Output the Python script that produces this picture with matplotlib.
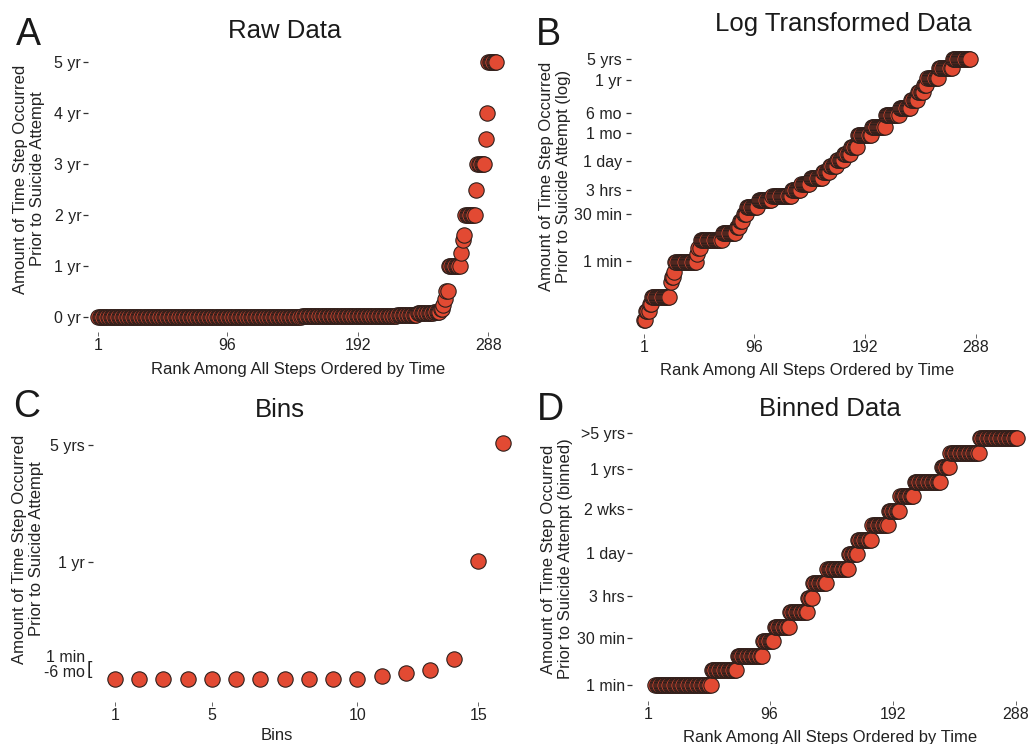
import numpy as np
import matplotlib
matplotlib.use("Agg")
import matplotlib.pyplot as plt

plt.rcParams['font.family'] = ['Liberation Sans', 'DejaVu Sans']

W, H = 1032, 744

# ---------------- data ----------------
# Panel A: raw time (years) per ranked step, as runs of equal values
a_values = [0.0, 0.005, 0.02, 0.04, 0.07, 0.1, 0.15, 0.23, 0.35, 0.5,
            1.0, 1.25, 1.5, 1.6, 2.0, 2.5, 3.0, 3.5, 4.0, 5.0]
a_counts = [150, 50, 20, 15, 12, 5, 2, 1, 1, 2,
            9, 1, 1, 1, 8, 1, 6, 1, 1, 7]
a_ytick_pos = [0, 1, 2, 3, 4, 5]
a_ytick_labels = ['0 yr', '1 yr', '2 yr', '3 yr', '4 yr', '5 yr']
rank_ticks = [1, 96, 192, 288]

# Panel B: log-transformed time (axis units), runs of equal values
b_values = [1.0, 1.9, 2.6, 3.3, 4.8, 5.3, 5.8, 6.8, 7.6, 8.2,
            9.0, 9.7, 10.3, 10.9, 11.6, 12.3, 13.0, 13.4, 14.0, 14.6,
            15.2, 15.8, 16.4, 17.0, 17.6, 18.3, 19.5, 20.3, 21.5, 22.2,
            23.0, 23.8, 24.5, 25.2, 26.2, 27.1]
b_counts = [2, 3, 2, 16, 1, 2, 1, 19, 1, 2,
            19, 12, 3, 3, 3, 10, 12, 17, 8, 8,
            11, 6, 6, 6, 6, 6, 12, 12, 12, 10,
            6, 5, 3, 10, 12, 16]
b_ytick_pos = [6.9, 11.57, 14.0, 16.9, 19.67, 21.73, 25.0, 27.07]
b_ytick_labels = ['1 min', '30 min', '3 hrs', '1 day', '1 mo', '6 mo', '1 yr', '5 yrs']

# Panel C: bins (axis units)
c_bins = [1, 2, 3, 4, 5, 6, 7, 8, 9, 10, 11, 12, 13, 14, 15, 16, 17]
c_values = [0, 0, 0, 0, 0, 0, 0, 0, 0, 0, 0, 0.36, 0.6, 0.93, 2.0, 11.83, 23.6]
c_xtick_pos = [1, 5, 11, 16]
c_xtick_labels = ['1', '5', '10', '15']
c_ytick_pos = [11.76, 23.43]
c_ytick_labels = ['1 yr', '5 yrs']

# Panel D: binned data, bin level and number of steps per level
d_levels = [1, 2, 3, 4, 5, 6, 7, 8, 9, 10, 11, 12, 13, 14, 15, 16, 17, 18]
d_counts = [44, 20, 20, 9, 12, 14, 4, 11, 17, 7, 11, 13, 9, 11, 21, 7, 23, 30]
d_first_rank = 7
d_ytick_pos = [1, 4.21, 7.12, 10.13, 13.16, 15.9, 18.36]
d_ytick_labels = ['1 min', '30 min', '3 hrs', '1 day', '2 wks', '1 yrs', '>5 yrs']

# ---------------- styling ----------------
FACE = '#E24A33'
EDGE = '#2e1f1b'
PT_S = 122

fig = plt.figure(figsize=(W / 100, H / 100), dpi=100)
fig.patch.set_facecolor('white')


def fx(x):
    return x / W


def fy(y):
    return 1 - y / H


def make_ax(box, xref, yref, ypad):
    left, top, right, bottom = box
    ax = fig.add_axes([fx(left), fy(bottom), (right - left) / W, (bottom - top) / H])
    x0v, x0p, sx = xref
    y0v, y0p, sy = yref
    ax.set_xlim(x0v + (left - x0p) / sx, x0v + (right - x0p) / sx)
    ax.set_ylim(y0v - (bottom - y0p) / sy, y0v + (y0p - top) / sy)
    for s in ax.spines.values():
        s.set_visible(False)
    ax.set_facecolor('none')
    ax.tick_params(axis='y', length=3.5, width=0.9, color='#333333',
                   labelsize=11.5, labelcolor='#222222', pad=ypad)
    ax.tick_params(axis='x', length=3.0, width=0.7, color='#666666',
                   labelsize=11.5, labelcolor='#222222', pad=1.5)
    return ax


def pts(ax, x, y):
    ax.scatter(x, y, s=PT_S, c=FACE, edgecolors=EDGE, linewidths=0.8,
               clip_on=False, zorder=3)


def ylab(x, y, txt):
    fig.text(fx(x), fy(y), txt, rotation=90, ha='center', va='center',
             multialignment='center', fontsize=12, color='#222222', linespacing=1.2)


def xlab(x, y, txt):
    fig.text(fx(x), fy(y), txt, ha='center', va='baseline', fontsize=12, color='#222222')


def title(x, y, txt):
    fig.text(fx(x), fy(y), txt, ha='center', va='baseline', fontsize=18.5, color='#1a1a1a')


def letter(x, y, txt):
    fig.text(fx(x), fy(y), txt, ha='center', va='baseline', fontsize=27, color='#1a1a1a')


# ---------------- Panel A ----------------
axA = make_ax((87.5, 45, 515, 332), (1, 98.3, 1.359), (0, 316.7, 50.88), 1.0)
a_y = np.repeat(a_values, a_counts)
a_x = np.arange(1, len(a_y) + 1)
pts(axA, a_x, a_y)
axA.set_xticks(rank_ticks)
axA.set_xticklabels([str(t) for t in rank_ticks])
axA.set_yticks(a_ytick_pos)
axA.set_yticklabels(a_ytick_labels)
title(285, 38, 'Raw Data')
letter(28.5, 45, 'A')
ylab(29, 179, 'Amount of Time Step Occurred\nPrior to Suicide Attempt')
xlab(298, 374, 'Rank Among All Steps Ordered by Time')

# ---------------- Panel B ----------------
axB = make_ax((631, 45, 995, 334), (1, 644, 1.157), (0, 330, 10.0), 3.0)
b_y = np.repeat(b_values, b_counts)
b_x = np.arange(1, len(b_y) + 1)
pts(axB, b_x, b_y)
axB.set_xticks(rank_ticks)
axB.set_xticklabels([str(t) for t in rank_ticks])
axB.set_yticks(b_ytick_pos)
axB.set_yticklabels(b_ytick_labels)
title(843, 30.7, 'Log Transformed Data')
letter(548, 45, 'B')
ylab(555, 176, 'Amount of Time Step Occurred\nPrior to Suicide Attempt (log)')
xlab(807, 375, 'Rank Among All Steps Ordered by Time')

# ---------------- Panel C ----------------
axC = make_ax((93.3, 425, 525, 701.5), (1, 115, 24.23), (0, 679.3, 10.0), 2.4)
pts(axC, c_bins, c_values)
axC.set_xticks(c_xtick_pos)
axC.set_xticklabels(c_xtick_labels)
axC.set_yticks(c_ytick_pos)
axC.set_yticklabels(c_ytick_labels)
fig.text(fx(85), fy(662), '1 min', ha='right', va='baseline', fontsize=11.5, color='#222222')
fig.text(fx(85), fy(677), '-6 mo', ha='right', va='baseline', fontsize=11.5, color='#222222')
fig.text(fx(86.5), fy(674), '[', ha='left', va='baseline', fontsize=14, color='#222222')
title(280, 416.7, 'Bins')
letter(27, 417, 'C')
ylab(28.3, 549, 'Amount of Time Step Occurred\nPrior to Suicide Attempt')
xlab(277, 740, 'Bins')

# ---------------- Panel D ----------------
axD = make_ax((632.3, 420, 1030, 701), (1, 647.7, 1.283), (1, 685, 14.51), 1.7)
d_y = np.repeat(d_levels, d_counts)
d_x = np.arange(d_first_rank, d_first_rank + len(d_y))
pts(axD, d_x, d_y)
axD.set_xticks(rank_ticks)
axD.set_xticklabels([str(t) for t in rank_ticks])
axD.set_yticks(d_ytick_pos)
axD.set_yticklabels(d_ytick_labels)
title(830, 416, 'Binned Data')
letter(550, 420, 'D')
ylab(556.7, 559, 'Amount of Time Step Occurred\nPrior to Suicide Attempt (binned)')
xlab(830, 741.7, 'Rank Among All Steps Ordered by Time')

fig.savefig('out.png', dpi=100, facecolor='white')
